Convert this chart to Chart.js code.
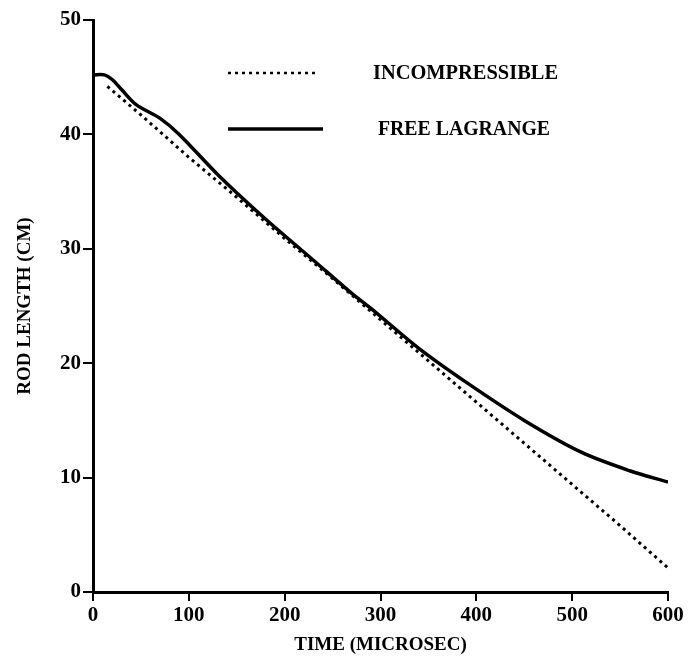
<!DOCTYPE html>
<html>
<head>
<meta charset="utf-8">
<script src="https://cdn.jsdelivr.net/npm/chart.js@4/dist/chart.umd.min.js"></script>
<style>
  html, body { margin: 0; padding: 0; background: #fff; }
  #wrap { width: 697px; height: 671px; }
</style>
</head>
<body>
<div id="wrap"><canvas id="chart" width="697" height="671"></canvas></div>
<script>
// values (time in microsec, rod length in cm)
const incompTime   = [15, 50, 100, 150, 200, 250, 300, 350, 400, 450, 500, 550, 600];
const incompLength = [44.2, 41.7, 38.0, 34.5, 30.9, 27.4, 23.8, 20.2, 16.6, 13.0, 9.4, 5.8, 2.1];

const freeTime   = [0, 12, 20, 30, 45, 70, 90, 130, 180, 230, 270, 290, 340, 390, 450, 510, 560, 600];
const freeLength = [45.2, 45.2, 44.8, 43.9, 42.6, 41.4, 40.0, 36.5, 32.6, 29.0, 26.1, 24.8, 21.3, 18.3, 15.0, 12.2, 10.6, 9.6];

const seriesNames = ['INCOMPRESSIBLE', 'FREE LAGRANGE'];

const FONT = '"Liberation Serif", "DejaVu Serif", serif';

function pts(xs, ys) {
  return xs.map((x, i) => ({ x: x, y: ys[i] }));
}

// hand drawn legend in the upper middle of the plot
const legendPlugin = {
  id: 'paperLegend',
  afterDraw(chart) {
    const ctx = chart.ctx;
    const a = chart.chartArea;
    const rows = [
      { name: seriesNames[0], dash: [3, 4], y: a.top + 53, lineEnd: a.left + 225, textX: a.left + 280, w: 185 },
      { name: seriesNames[1], dash: [], y: a.top + 109, lineEnd: a.left + 230, textX: a.left + 285, w: 172 }
    ];
    ctx.save();
    rows.forEach(r => {
      ctx.beginPath();
      ctx.setLineDash(r.dash);
      ctx.lineWidth = r.dash.length ? 2.5 : 3.5;
      ctx.strokeStyle = '#000';
      ctx.moveTo(a.left + 135, r.y);
      ctx.lineTo(r.lineEnd, r.y);
      ctx.stroke();
      ctx.setLineDash([]);
      ctx.fillStyle = '#000';
      ctx.font = 'bold 22px ' + FONT;
      ctx.textBaseline = 'middle';
      ctx.fillText(r.name, r.textX, r.y, r.w);
    });
    ctx.restore();
  }
};

new Chart(document.getElementById('chart'), {
  type: 'line',
  data: {
    datasets: [
      {
        label: seriesNames[0],
        data: pts(incompTime, incompLength),
        borderColor: '#000',
        borderWidth: 3,
        borderDash: [3, 4],
        pointRadius: 0,
        tension: 0,
        fill: false
      },
      {
        label: seriesNames[1],
        data: pts(freeTime, freeLength),
        borderColor: '#000',
        borderWidth: 3.5,
        pointRadius: 0,
        tension: 0.3,
        fill: false
      }
    ]
  },
  options: {
    responsive: false,
    animation: false,
    layout: { padding: { top: 20, right: 29, left: 0, bottom: 0 } },
    plugins: {
      legend: { display: false },
      tooltip: { enabled: false }
    },
    scales: {
      x: {
        type: 'linear',
        min: 0,
        max: 600,
        ticks: {
          stepSize: 100,
          color: '#000',
          font: { family: FONT, size: 21, weight: 'bold' },
          padding: 2
        },
        grid: { display: true, drawOnChartArea: false, drawTicks: true, tickLength: 9, lineWidth: 2, color: '#000' },
        border: { display: true, color: '#000', width: 3 },
        title: {
          display: true,
          text: 'TIME (MICROSEC)',
          color: '#000',
          font: { family: FONT, size: 19, weight: 'bold' },
          padding: { top: 2, bottom: 15 }
        },
        afterFit(scale) { scale.height = 79; }
      },
      y: {
        min: 0,
        max: 50,
        ticks: {
          stepSize: 10,
          color: '#000',
          font: { family: FONT, size: 21, weight: 'bold' },
          padding: 2
        },
        grid: { display: true, drawOnChartArea: false, drawTicks: true, tickLength: 10, lineWidth: 2, color: '#000' },
        border: { display: true, color: '#000', width: 3 },
        title: {
          display: true,
          text: 'ROD LENGTH (CM)',
          color: '#000',
          font: { family: FONT, size: 19, weight: 'bold' },
          padding: { top: 14, bottom: 0 }
        },
        afterFit(scale) { scale.width = 93; }
      }
    }
  },
  plugins: [legendPlugin]
});
</script>
</body>
</html>
